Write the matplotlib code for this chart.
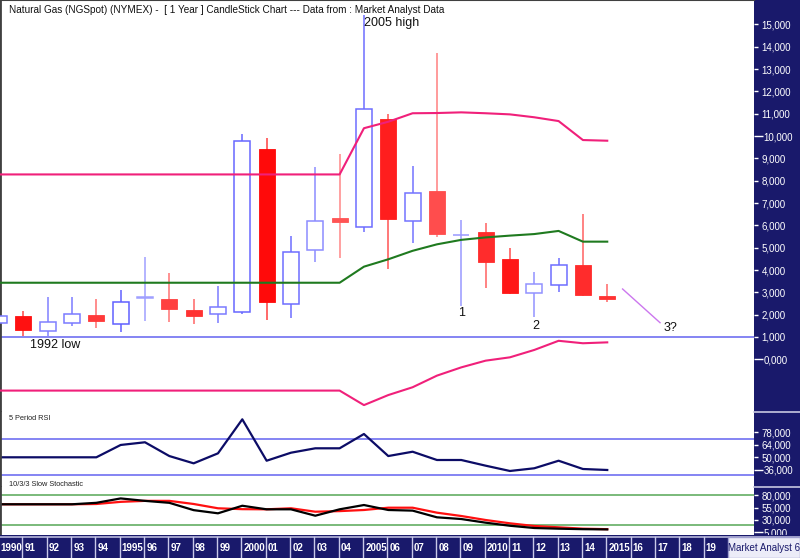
import matplotlib
matplotlib.use('Agg')
import matplotlib.pyplot as plt
from matplotlib.ticker import FixedLocator, FuncFormatter
from matplotlib.patches import Rectangle
from matplotlib.lines import Line2D
from matplotlib.colors import to_rgb

plt.rcParams['font.family'] = ['Liberation Sans', 'DejaVu Sans']

# ---------------- data ----------------
years = list(range(1990, 2016))
opens  = [1.61, 1.93, 1.28, 1.64, 1.97, 1.58, 2.74, 2.69, 2.21, 2.02,
          2.11, 9.42, 2.48, 4.90, 6.32, 5.93, 10.75, 6.19, 7.55, 5.55,
          5.69, 4.48, 2.96, 3.33, 4.22, 2.84]
highs  = [2.05, 2.16, 2.80, 2.80, 2.69, 3.10, 4.60, 3.85, 2.70, 3.28,
          10.09, 9.93, 5.52, 8.63, 9.20, 15.40, 10.97, 8.66, 13.70, 6.24,
          6.09, 4.97, 3.92, 4.52, 6.49, 3.36]
lows   = [1.55, 1.06, 1.04, 1.49, 1.39, 1.24, 1.73, 1.66, 1.58, 1.61,
          2.05, 1.76, 1.84, 4.37, 4.52, 5.72, 4.05, 5.22, 5.46, 2.40,
          3.18, 2.93, 1.88, 3.03, 2.85, 2.55]
closes = [1.95, 1.31, 1.69, 2.02, 1.70, 2.58, 2.78, 2.24, 1.94, 2.33,
          9.76, 2.55, 4.79, 6.19, 6.14, 11.21, 6.28, 7.46, 5.61, 5.58,
          4.37, 2.96, 3.36, 4.22, 2.88, 2.70]

upper_band = [8.28, 8.28, 8.28, 8.28, 8.28, 8.28, 8.28, 8.28, 8.28, 8.28,
              8.28, 8.28, 8.28, 8.28, 8.28, 10.35, 10.64, 11.02, 11.03, 11.06,
              11.02, 10.97, 10.84, 10.67, 9.82, 9.79]
mid_band   = [3.43, 3.43, 3.43, 3.43, 3.43, 3.43, 3.43, 3.43, 3.43, 3.43,
              3.43, 3.43, 3.43, 3.43, 3.43, 4.15, 4.48, 4.86, 5.15, 5.35,
              5.46, 5.54, 5.61, 5.75, 5.27, 5.27]
lower_band = [-1.40, -1.40, -1.40, -1.40, -1.40, -1.40, -1.40, -1.40, -1.40, -1.40,
              -1.40, -1.40, -1.40, -1.40, -1.40, -2.05, -1.60, -1.25, -0.73, -0.36,
              -0.06, 0.09, 0.42, 0.83, 0.72, 0.76]

rsi = [50, 50, 50, 50, 50, 63.7, 66.7, 51.4, 43.3, 54.4,
       92.2, 46.2, 55.1, 60.0, 60.0, 75.9, 51.4, 56.2, 47.0, 47.0,
       40.7, 34.8, 37.8, 46.2, 37.0, 35.9]
stoch_k = [62, 62, 62, 62, 65, 74, 69, 65, 50, 43.5,
           59, 51.7, 51.7, 38.6, 51.7, 60.5, 50.3, 49, 35.3, 31.8,
           24.3, 18, 13.4, 12, 11, 10.5]
stoch_d = [62, 62, 62, 62, 62.6, 67, 69, 69, 62.6, 53.8,
           52, 51.7, 53.8, 46.8, 48, 50.3, 55, 55, 44.8, 38,
           29.8, 23, 17.5, 14.8, 12, 11]

proj_x = [2015.63, 2017.17]
proj_y = [3.15, 1.64]

support_level = 1.0
rsi_levels = [70, 30]
stoch_levels = [80, 20]

price_ticks = list(range(0, 16))
rsi_ticks = [36, 50, 64, 78]
stoch_ticks = [5, 30, 55, 80]

band_years = list(range(1990, 2020))
band_labels = ['1990', '91', '92', '93', '94', '1995', '96', '97', '98', '99',
               '2000', '01', '02', '03', '04', '2005', '06', '07', '08', '09',
               '2010', '11', '12', '13', '14', '2015', '16', '17', '18', '19']

# colour intensity per candle (style only)
shade = [0.6, 0.95, 0.55, 0.6, 0.65, 0.8, 0.3, 0.6, 0.7, 0.6,
         0.75, 1.0, 0.7, 0.45, 0.45, 0.7, 0.85, 0.65, 0.5, 0.35,
         0.75, 0.9, 0.4, 0.7, 0.75, 0.7]

# ---------------- layout ----------------
W, H = 800, 558
NAVY = '#19196b'
PX_PER_YEAR = 24.33


def fx(px):
    return px / W


def fy(py):
    return 1 - py / H


def xyear(px):
    return 1990 + (px + 1) / PX_PER_YEAR


fig = plt.figure(figsize=(8, 5.58), dpi=100)
fig.patch.set_facecolor('white')

# navy right panel
fig.patches.append(Rectangle((fx(754), fy(535)), 1 - fx(754), 535 / H,
                             transform=fig.transFigure, facecolor=NAVY,
                             edgecolor='none', zorder=-1))

ax = fig.add_axes([0, fy(412), fx(754), 412 / H])
ax_r = fig.add_axes([0, fy(487), fx(754), 75 / H])
ax_s = fig.add_axes([0, fy(535), fx(754), 48 / H])

XL = (xyear(0), xyear(754))
for a in (ax, ax_r, ax_s):
    a.set_xlim(*XL)
    a.set_facecolor('white')
    for s in ('right', 'bottom', 'top'):
        a.spines[s].set_visible(False)
    a.spines['left'].set_color('#404040')
    a.spines['left'].set_linewidth(2)
    a.set_xticks([])
ax.spines['top'].set_visible(True)
ax.spines['top'].set_color('#404040')
ax.spines['top'].set_linewidth(1.5)

ax.set_ylim(1 - 75 / 22.33, 1 + 337 / 22.33)
ax_r.set_ylim(50 - (487 - 457.3) / 0.9, 50 + (457.3 - 412) / 0.9)
ax_s.set_ylim(55 - (535 - 507.7) / 0.488, 55 + (507.7 - 487) / 0.488)


def comma_fmt(v, pos=None):
    return f"{v:.3f}".replace('.', ',')


def set_right_ticks(a, ticks, long_ticks):
    a.yaxis.tick_right()
    a.yaxis.set_major_locator(FixedLocator(long_ticks))
    a.yaxis.set_minor_locator(FixedLocator([t for t in ticks if t not in long_ticks]))
    a.yaxis.set_major_formatter(FuncFormatter(comma_fmt))
    a.yaxis.set_minor_formatter(FuncFormatter(comma_fmt))
    a.tick_params(axis='y', which='major', length=6.5, width=1, colors='white',
                  labelcolor='white', labelsize=7, pad=0.5, direction='out')
    a.tick_params(axis='y', which='minor', length=3, width=1, colors='white',
                  labelcolor='white', labelsize=7, pad=2.5, direction='out')


set_right_ticks(ax, price_ticks, [0, 10])
set_right_ticks(ax_r, rsi_ticks, [36])
set_right_ticks(ax_s, stoch_ticks, [5])

# ---------------- main price panel ----------------
ax.axhline(support_level, color='#7b7bf2', lw=1.3, zorder=1)
ax.plot(years, upper_band, color='#f0207a', lw=1.5, zorder=4)
ax.plot(years, lower_band, color='#f0207a', lw=1.5, zorder=4)
ax.plot(years, mid_band, color='#1f7a1f', lw=1.5, zorder=4)


def mix(c1, c2, t):
    a, b = to_rgb(c1), to_rgb(c2)
    return tuple(a[i] * t + b[i] * (1 - t) for i in range(3))


BW = 0.66
for i, yr in enumerate(years):
    o, h, l, c = opens[i], highs[i], lows[i], closes[i]
    t = shade[i]
    if c >= o:
        col = mix('#4848ff', '#c4c4ff', t)
        ax.vlines(yr, l, h, color=col, lw=1.1, zorder=2)
        ax.bar(yr, max(c - o, 0.02), bottom=o, width=BW, facecolor='white',
               edgecolor=col, linewidth=1.1, zorder=3)
    else:
        col = mix('#ff0a0a', '#ff9090', t)
        wcol = mix('#ff2020', '#ffc0c0', t * 0.8)
        ax.vlines(yr, l, h, color=wcol, lw=1.1, zorder=2)
        ax.bar(yr, o - c, bottom=c, width=BW, facecolor=col,
               edgecolor=col, linewidth=0.6, zorder=3)

ax.plot(proj_x, proj_y, color='#cc77ee', lw=1.0, zorder=4)

tk = dict(fontsize=9, color='#111111', ha='center', va='center', zorder=6)
ax.text(xyear(392), 1 + (337 - 23) / 22.33, '2005 high', **tk)
ax.text(xyear(55), 1 + (337 - 345) / 22.33, '1992 low', **tk)
ax.text(xyear(462), 1 + (337 - 313) / 22.33, '1', **tk)
ax.text(xyear(536), 1 + (337 - 326) / 22.33, '2', **tk)
ax.text(xyear(671), 1 + (337 - 328) / 22.33, '3?', **tk)

# ---------------- RSI panel ----------------
for lv in rsi_levels:
    ax_r.axhline(lv, color='#7b7bf2', lw=1.3)
ax_r.plot(years, rsi, color='#0c0c66', lw=1.6)

# ---------------- stochastic panel ----------------
for lv in stoch_levels:
    ax_s.axhline(lv, color='#6fb46f', lw=1.3)
ax_s.plot(years, stoch_d, color='#ff1010', lw=1.6)
ax_s.plot(years, stoch_k, color='#000000', lw=1.6)

# ---------------- texts ----------------
fig.text(fx(9), fy(10), 'Natural Gas (NGSpot) (NYMEX) -  [ 1 Year ] CandleStick Chart --- Data from : Market Analyst Data',
         fontsize=7.2, color='#111111', ha='left', va='center')
fig.text(fx(9), fy(419), '5 Period RSI', fontsize=5.3, color='#222222', ha='left', va='center')
fig.text(fx(9), fy(484), '10/3/3 Slow Stochastic', fontsize=5.3, color='#222222', ha='left', va='center')

# separators in right panel
for py in (412, 487):
    fig.add_artist(Line2D([fx(754), 1], [fy(py), fy(py)], color='#c8c8e0', lw=1.2,
                          transform=fig.transFigure))

# ---------------- x band ----------------
axb = fig.add_axes([0, 0, 1, 23 / H], zorder=5)
axb.set_facecolor(NAVY)
axb.set_xlim(xyear(0), xyear(800))
axb.set_ylim(0, 1)
axb.set_xticks([])
axb.set_yticks([])
for s in axb.spines.values():
    s.set_visible(False)
axb.axhline(0.93, color='#b8b8dc', lw=1.2)
for yr, lab in zip(band_years, band_labels):
    axb.axvline(yr - 0.04, ymin=0, ymax=0.93, color='#c8c8e8', lw=1.0)
    axb.text(yr + 0.05, 0.42, lab, fontsize=7, color='white', ha='left', va='center',
             fontweight='bold')
axb.add_patch(Rectangle((xyear(728), 0.0), xyear(800) - xyear(728), 0.9,
                        facecolor='#ececf8', edgecolor='#a0a0d0', lw=1, zorder=6))
axb.text(xyear(764), 0.42, 'Market Analyst 6', fontsize=7, color='#19196b',
         ha='center', va='center', zorder=7)

fig.savefig('out.png', dpi=100)
